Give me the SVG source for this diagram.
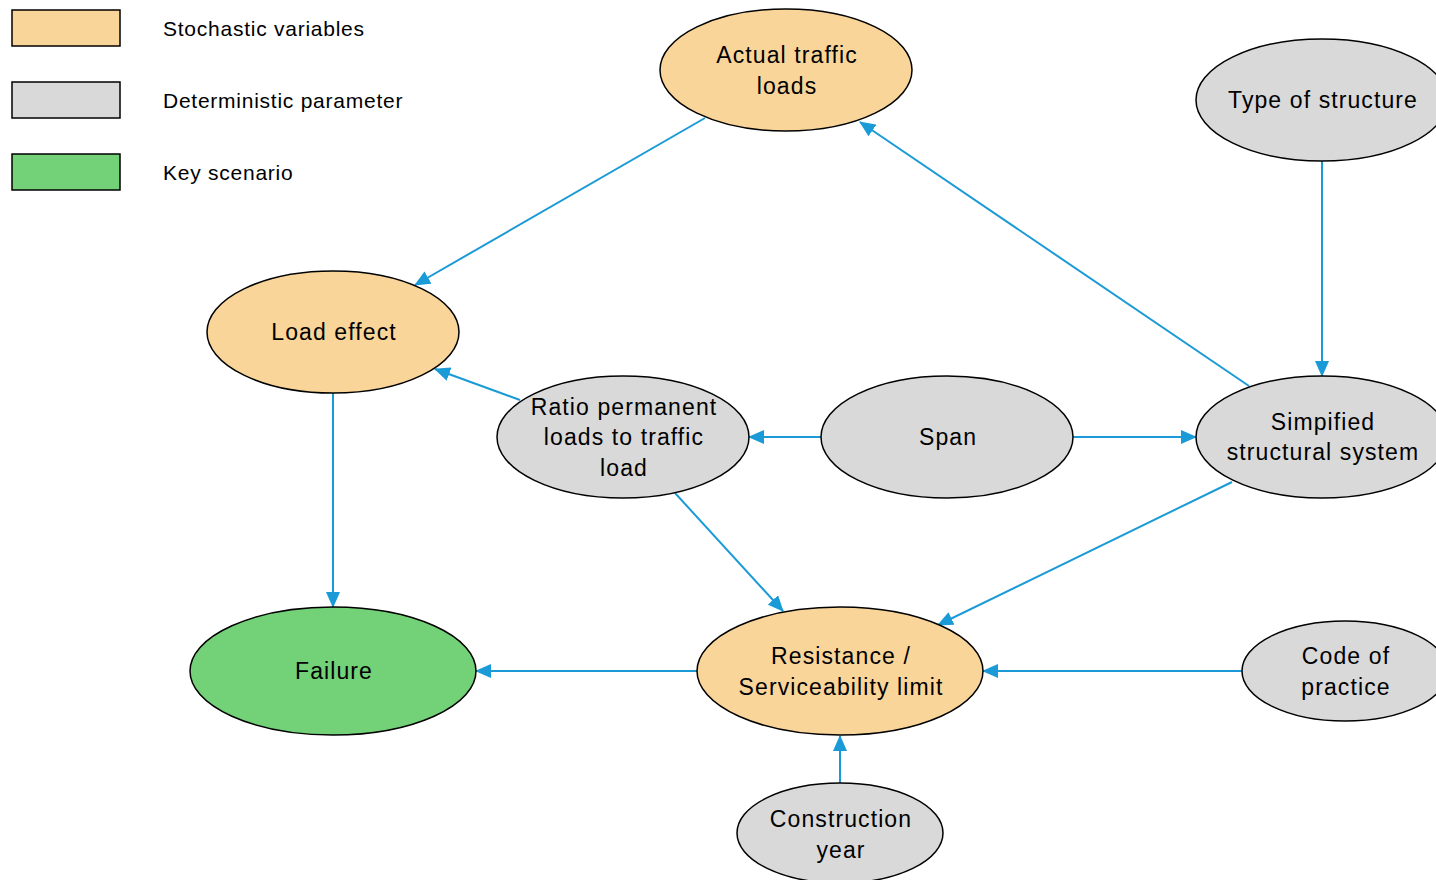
<svg xmlns="http://www.w3.org/2000/svg" width="1436" height="880" viewBox="0 0 1436 880">
<style>
.st{fill:#fad59a;stroke:#000;stroke-width:1.5}
.de{fill:#d9d9d9;stroke:#000;stroke-width:1.5}
.ks{fill:#73d177;stroke:#000;stroke-width:1.5}
text{font-family:"Liberation Sans",Arial,sans-serif;font-size:23px;letter-spacing:1.1px;fill:#000;text-anchor:middle}
.lg{font-size:21px;letter-spacing:0.75px;text-anchor:start}
.e{stroke:#1a9ad6;stroke-width:2;fill:none;marker-end:url(#ah)}
</style>
<defs>
<marker id="ah" markerWidth="16" markerHeight="14" refX="15" refY="7" orient="auto" markerUnits="userSpaceOnUse">
<path d="M0,0 L16,7 L0,14 Z" fill="#1a9ad6"/>
</marker>
</defs>
<rect width="1436" height="880" fill="#fff"/>
<g id="legend">
<rect class="st" x="12" y="10" width="108" height="36"/>
<text class="lg" x="163" y="36">Stochastic variables</text>
<rect class="de" x="12" y="82" width="108" height="36"/>
<text class="lg" x="163" y="108">Deterministic parameter</text>
<rect class="ks" x="12" y="154" width="108" height="36"/>
<text class="lg" x="163" y="180">Key scenario</text>
</g>
<g id="connectors">
<line class="e" x1="705" y1="118" x2="415" y2="285"/>
<line class="e" x1="1249" y1="386" x2="860" y2="122"/>
<line class="e" x1="1322" y1="161" x2="1322" y2="376"/>
<line class="e" x1="333" y1="393" x2="333" y2="607"/>
<line class="e" x1="520" y1="400" x2="435" y2="369"/>
<line class="e" x1="821" y1="437" x2="749" y2="437"/>
<line class="e" x1="1073" y1="437" x2="1196" y2="437"/>
<line class="e" x1="675" y1="493" x2="783" y2="611"/>
<line class="e" x1="1232" y1="482" x2="938" y2="625"/>
<line class="e" x1="697" y1="671" x2="476" y2="671"/>
<line class="e" x1="1242" y1="671" x2="983" y2="671"/>
<line class="e" x1="840" y1="783" x2="840" y2="736"/>
</g>
<g id="actual-traffic">
<ellipse class="st" cx="786" cy="70" rx="126" ry="61"/>
<text x="787" y="63">Actual traffic</text>
<text x="787" y="94">loads</text>
</g>
<g id="type-structure">
<ellipse class="de" cx="1322" cy="100" rx="126" ry="61"/>
<text x="1323" y="108">Type of structure</text>
</g>
<g id="load-effect">
<ellipse class="st" cx="333" cy="332" rx="126" ry="61"/>
<text x="334" y="340">Load effect</text>
</g>
<g id="ratio">
<ellipse class="de" cx="623" cy="437" rx="126" ry="61"/>
<text x="624" y="415">Ratio permanent</text>
<text x="624" y="445">loads to traffic</text>
<text x="624" y="476">load</text>
</g>
<g id="span">
<ellipse class="de" cx="947" cy="437" rx="126" ry="61"/>
<text x="948" y="445">Span</text>
</g>
<g id="simplified">
<ellipse class="de" cx="1322" cy="437" rx="126" ry="61"/>
<text x="1323" y="430">Simpified</text>
<text x="1323" y="460">structural system</text>
</g>
<g id="failure">
<ellipse class="ks" cx="333" cy="671" rx="143" ry="64"/>
<text x="334" y="679">Failure</text>
</g>
<g id="resistance">
<ellipse class="st" cx="840" cy="671" rx="143" ry="64"/>
<text x="841" y="664">Resistance /</text>
<text x="841" y="695">Serviceability limit</text>
</g>
<g id="code">
<ellipse class="de" cx="1345" cy="671" rx="103" ry="50"/>
<text x="1346" y="664">Code of</text>
<text x="1346" y="695">practice</text>
</g>
<g id="construction">
<ellipse class="de" cx="840" cy="833" rx="103" ry="50"/>
<text x="841" y="827">Construction</text>
<text x="841" y="858">year</text>
</g>
</svg>
